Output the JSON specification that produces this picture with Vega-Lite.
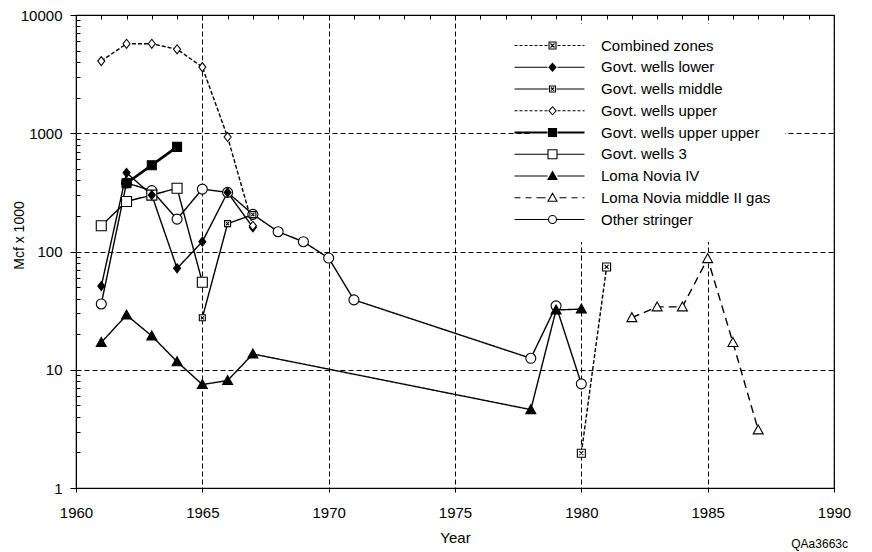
{
  "$schema": "https://vega.github.io/schema/vega-lite/v6.json",
  "width": 758,
  "height": 473,
  "autosize": {"type": "none"},
  "padding": {"left": 76, "top": 15, "right": 38, "bottom": 64},
  "background": "white",
  "config": {
    "font": "Liberation Sans",
    "view": {"stroke": "black", "strokeWidth": 1.2},
    "axis": {
      "domainColor": "black",
      "tickColor": "black",
      "gridColor": "black",
      "labelColor": "black",
      "titleColor": "black",
      "titleFontWeight": "normal"
    }
  },
  "title": {
    "text": "QAa3663c",
    "orient": "bottom",
    "anchor": "end",
    "frame": "group",
    "fontSize": 12,
    "fontWeight": "normal",
    "color": "black",
    "offset": -6,
    "dx": 14
  },
  "data": {
    "values": [
      {"series": "Other stringer", "year": 1961, "value": 36},
      {"series": "Other stringer", "year": 1962, "value": 380},
      {"series": "Other stringer", "year": 1963, "value": 327},
      {"series": "Other stringer", "year": 1964, "value": 188},
      {"series": "Other stringer", "year": 1965, "value": 337},
      {"series": "Other stringer", "year": 1966, "value": 316},
      {"series": "Other stringer", "year": 1967, "value": 206},
      {"series": "Other stringer", "year": 1968, "value": 147},
      {"series": "Other stringer", "year": 1969, "value": 121},
      {"series": "Other stringer", "year": 1970, "value": 88},
      {"series": "Other stringer", "year": 1971, "value": 39},
      {"series": "Other stringer", "year": 1978, "value": 12.5},
      {"series": "Other stringer", "year": 1979, "value": 34.7},
      {"series": "Other stringer", "year": 1980, "value": 7.6},
      {"series": "Govt. wells 3", "year": 1961, "value": 165},
      {"series": "Govt. wells 3", "year": 1962, "value": 265},
      {"series": "Govt. wells 3", "year": 1963, "value": 300},
      {"series": "Govt. wells 3", "year": 1964, "value": 343},
      {"series": "Govt. wells 3", "year": 1965, "value": 55},
      {"series": "Govt. wells middle", "year": 1965, "value": 27.5},
      {"series": "Govt. wells middle", "year": 1966, "value": 172},
      {"series": "Govt. wells middle", "year": 1967, "value": 205},
      {"series": "Govt. wells lower", "year": 1961, "value": 51},
      {"series": "Govt. wells lower", "year": 1962, "value": 463},
      {"series": "Govt. wells lower", "year": 1963, "value": 300},
      {"series": "Govt. wells lower", "year": 1964, "value": 72},
      {"series": "Govt. wells lower", "year": 1965, "value": 121},
      {"series": "Govt. wells lower", "year": 1966, "value": 316},
      {"series": "Govt. wells lower", "year": 1967, "value": 160},
      {"series": "Govt. wells upper", "year": 1961, "value": 4080},
      {"series": "Govt. wells upper", "year": 1962, "value": 5710},
      {"series": "Govt. wells upper", "year": 1963, "value": 5710},
      {"series": "Govt. wells upper", "year": 1964, "value": 5130},
      {"series": "Govt. wells upper", "year": 1965, "value": 3630},
      {"series": "Govt. wells upper", "year": 1966, "value": 930},
      {"series": "Govt. wells upper", "year": 1967, "value": 165},
      {"series": "Govt. wells upper upper", "year": 1962, "value": 378},
      {"series": "Govt. wells upper upper", "year": 1963, "value": 537},
      {"series": "Govt. wells upper upper", "year": 1964, "value": 767},
      {"series": "Loma Novia IV", "year": 1961, "value": 17},
      {"series": "Loma Novia IV", "year": 1962, "value": 29},
      {"series": "Loma Novia IV", "year": 1963, "value": 19.3},
      {"series": "Loma Novia IV", "year": 1964, "value": 11.7},
      {"series": "Loma Novia IV", "year": 1965, "value": 7.5},
      {"series": "Loma Novia IV", "year": 1966, "value": 8.1},
      {"series": "Loma Novia IV", "year": 1967, "value": 13.6},
      {"series": "Loma Novia IV", "year": 1978, "value": 4.6},
      {"series": "Loma Novia IV", "year": 1979, "value": 32},
      {"series": "Loma Novia IV", "year": 1980, "value": 32.6},
      {"series": "Loma Novia middle II gas", "year": 1982, "value": 27.6},
      {"series": "Loma Novia middle II gas", "year": 1983, "value": 34},
      {"series": "Loma Novia middle II gas", "year": 1984, "value": 34},
      {"series": "Loma Novia middle II gas", "year": 1985, "value": 87},
      {"series": "Loma Novia middle II gas", "year": 1986, "value": 17},
      {"series": "Loma Novia middle II gas", "year": 1987, "value": 3.1},
      {"series": "Combined zones", "year": 1980, "value": 1.97},
      {"series": "Combined zones", "year": 1981, "value": 74}
    ]
  },
  "layer": [
    {
      "transform": [{"filter": "datum.series !== 'Govt. wells upper upper'"}],
      "mark": {"type": "line", "color": "black", "strokeWidth": 1.4, "opacity": 1},
      "encoding": {
        "x": {
          "field": "year", "type": "quantitative",
          "scale": {"domain": [1960, 1990], "nice": false, "zero": false},
          "axis": {
            "values": [1960, 1965, 1970, 1975, 1980, 1985, 1990],
            "format": "d",
            "grid": true, "gridDash": [5, 3], "gridWidth": 1,
            "tickSize": 4, "labelPadding": 13,
            "labelFontSize": 15, "labelFlush": false,
            "title": "Year", "titleFontSize": 15, "titlePadding": 10
          }
        },
        "y": {
          "field": "value", "type": "quantitative",
          "scale": {"type": "log", "domain": [1, 10000], "nice": false},
          "axis": {
            "values": [1, 10, 100, 1000, 10000],
            "format": "d",
            "grid": true, "gridDash": [5, 3], "gridWidth": 1,
            "tickSize": 6, "labelPadding": 8,
            "labelFontSize": 15,
            "title": "Mcf x 1000", "titleFontSize": 14,
            "titleX": -57, "titleY": 220, "titleAngle": -90,
            "titleAlign": "center", "titleBaseline": "middle"
          }
        },
        "detail": {"field": "series", "type": "nominal"},
        "strokeDash": {
          "field": "series", "type": "nominal",
          "scale": {
            "domain": ["Combined zones", "Govt. wells lower", "Govt. wells middle", "Govt. wells upper", "Govt. wells upper upper", "Govt. wells 3", "Loma Novia IV", "Loma Novia middle II gas", "Other stringer"],
            "range": [[4, 2], [1, 0], [1, 0], [4, 2], [1, 0], [1, 0], [1, 0], [8, 5], [1, 0]]
          },
          "legend": null
        }
      }
    },
    {
      "transform": [{"filter": "datum.series === 'Govt. wells upper upper'"}],
      "mark": {"type": "line", "color": "black", "strokeWidth": 2.6, "opacity": 1},
      "encoding": {
        "x": {"field": "year", "type": "quantitative", "scale": {"domain": [1960, 1990], "nice": false, "zero": false}, "axis": null},
        "y": {"field": "value", "type": "quantitative", "scale": {"type": "log", "domain": [1, 10000], "nice": false}, "axis": null}
      }
    },
    {
      "mark": {"type": "point", "filled": true, "stroke": "black", "strokeWidth": 1.1, "size": 4, "opacity": 1},
      "encoding": {
        "x": {
          "field": "year", "type": "quantitative",
          "scale": {"domain": [1960, 1990], "nice": false, "zero": false},
          "axis": {
            "values": [1961, 1962, 1963, 1964, 1966, 1967, 1968, 1969, 1971, 1972, 1973, 1974, 1976, 1977, 1978, 1979, 1981, 1982, 1983, 1984, 1986, 1987, 1988, 1989],
            "labels": false, "grid": false, "domain": false, "tickSize": -4, "title": null
          }
        },
        "y": {
          "field": "value", "type": "quantitative",
          "scale": {"type": "log", "domain": [1, 10000], "nice": false},
          "axis": {
            "orient": "left",
            "values": [2, 3, 4, 5, 6, 7, 8, 9, 20, 30, 40, 50, 60, 70, 80, 90, 200, 300, 400, 500, 600, 700, 800, 900, 2000, 3000, 4000, 5000, 6000, 7000, 8000, 9000],
            "labels": false, "grid": false, "domain": false, "tickSize": -4, "title": null
          }
        },
        "shape": {
          "field": "series", "type": "nominal",
          "scale": {
            "domain": ["Combined zones", "Govt. wells lower", "Govt. wells middle", "Govt. wells upper", "Govt. wells upper upper", "Govt. wells 3", "Loma Novia IV", "Loma Novia middle II gas", "Other stringer"],
            "range": [
              "M-4,-4H4V4H-4ZM-2,-2L2,2M2,-2L-2,2",
              "M0,-4.5L3.5,0L0,4.5L-3.5,0Z",
              "M-3,-3H3V3H-3ZM-1.5,-1.5L1.5,1.5M1.5,-1.5L-1.5,1.5",
              "M0,-4.5L3.5,0L0,4.5L-3.5,0Z",
              "M-4.5,-4.5H4.5V4.5H-4.5Z",
              "M-5,-5H5V5H-5Z",
              "M0,-5L5,4L-5,4Z",
              "M0,-5L5,4L-5,4Z",
              "M5,0A5,5,0,1,1,-5,0A5,5,0,1,1,5,0Z"
            ]
          },
          "legend": null
        },
        "fill": {
          "field": "series", "type": "nominal",
          "scale": {
            "domain": ["Combined zones", "Govt. wells lower", "Govt. wells middle", "Govt. wells upper", "Govt. wells upper upper", "Govt. wells 3", "Loma Novia IV", "Loma Novia middle II gas", "Other stringer"],
            "range": ["white", "black", "white", "white", "black", "white", "black", "white", "white"]
          },
          "legend": null
        }
      }
    },
    {
      "transform": [{"filter": "false"}],
      "mark": {"type": "point", "filled": false, "color": "black", "strokeWidth": 1.1, "size": 4, "opacity": 1},
      "encoding": {
        "shape": {
          "field": "series", "type": "nominal",
          "scale": {
            "domain": ["Combined zones", "Govt. wells lower", "Govt. wells middle", "Govt. wells upper", "Govt. wells upper upper", "Govt. wells 3", "Loma Novia IV", "Loma Novia middle II gas", "Other stringer"],
            "range": [
              "M-38,0H-35M-33,0H-30M-28,0H-25M-23,0H-20M-18,0H-15M-13,0H-10M-8,0H-5M5,0H8M10,0H13M15,0H18M20,0H23M25,0H28M30,0H32M-3.5,-3.5H3.5V3.5H-3.5ZM-2,-2L2,2M2,-2L-2,2",
              "M-38,0H-5M5,0H32M0,-4L3.5,0L0,4L-3.5,0ZM-0.9,-3H0.9M-1.7,-2H1.7M-2.6,-1H2.6M-3.5,0H3.5M-2.6,1H2.6M-1.7,2H1.7M-0.9,3H0.9",
              "M-38,0H-4M4,0H32M-3,-3H3V3H-3ZM-1.5,-1.5L1.5,1.5M1.5,-1.5L-1.5,1.5",
              "M-38,0H-35M-33,0H-30M-28,0H-25M-23,0H-20M-18,0H-15M-13,0H-10M-8,0H-5M5,0H8M10,0H13M15,0H18M20,0H23M25,0H28M30,0H32M0,-4L3.5,0L0,4L-3.5,0Z",
              "M-38,-0.5H-5M5,-0.5H32M-38,0.5H-5M5,0.5H32M-4,-4H4V4H-4ZM-4,-3H4M-4,-2H4M-4,-1H4M-4,0H4M-4,1H4M-4,2H4M-4,3H4",
              "M-38,0H-5M5,0H32M-4.5,-4.5H4.5V4.5H-4.5Z",
              "M-38,0H-5M5,0H32M0,-4.5L4.5,3.5L-4.5,3.5ZM-0.8,-3H0.8M-1.4,-2H1.4M-2,-1H2M-2.5,0H2.5M-3.1,1H3.1M-3.7,2H3.7M-4.2,3H4.2",
              "M-38,0H-32M-27,0H-21M-16,0H-7M7,0H14M19,0H25M30,0H32M0,-4.5L4.5,3.5L-4.5,3.5Z",
              "M-38,0H-4M4,0H32M4,0A4,4,0,1,1,-4,0A4,4,0,1,1,4,0Z"
            ]
          },
          "legend": {
            "orient": "none",
            "legendX": 455,
            "legendY": 9,
            "title": null,
            "padding": 14,
            "fillColor": "white",
            "strokeColor": null,
            "labelFontSize": 15,
            "labelColor": "black",
            "labelLimit": 400,
            "labelOffset": 41,
            "rowPadding": 5.75,
            "symbolSize": 4,
            "symbolOpacity": 1,
            "symbolStrokeWidth": 1.1,
            "symbolStrokeColor": "black",
            "symbolFillColor": "transparent"
          }
        }
      }
    }
  ],
  "resolve": {
    "scale": {"x": "independent", "y": "independent", "shape": "independent"},
    "axis": {"x": "independent", "y": "independent"}
  }
}
